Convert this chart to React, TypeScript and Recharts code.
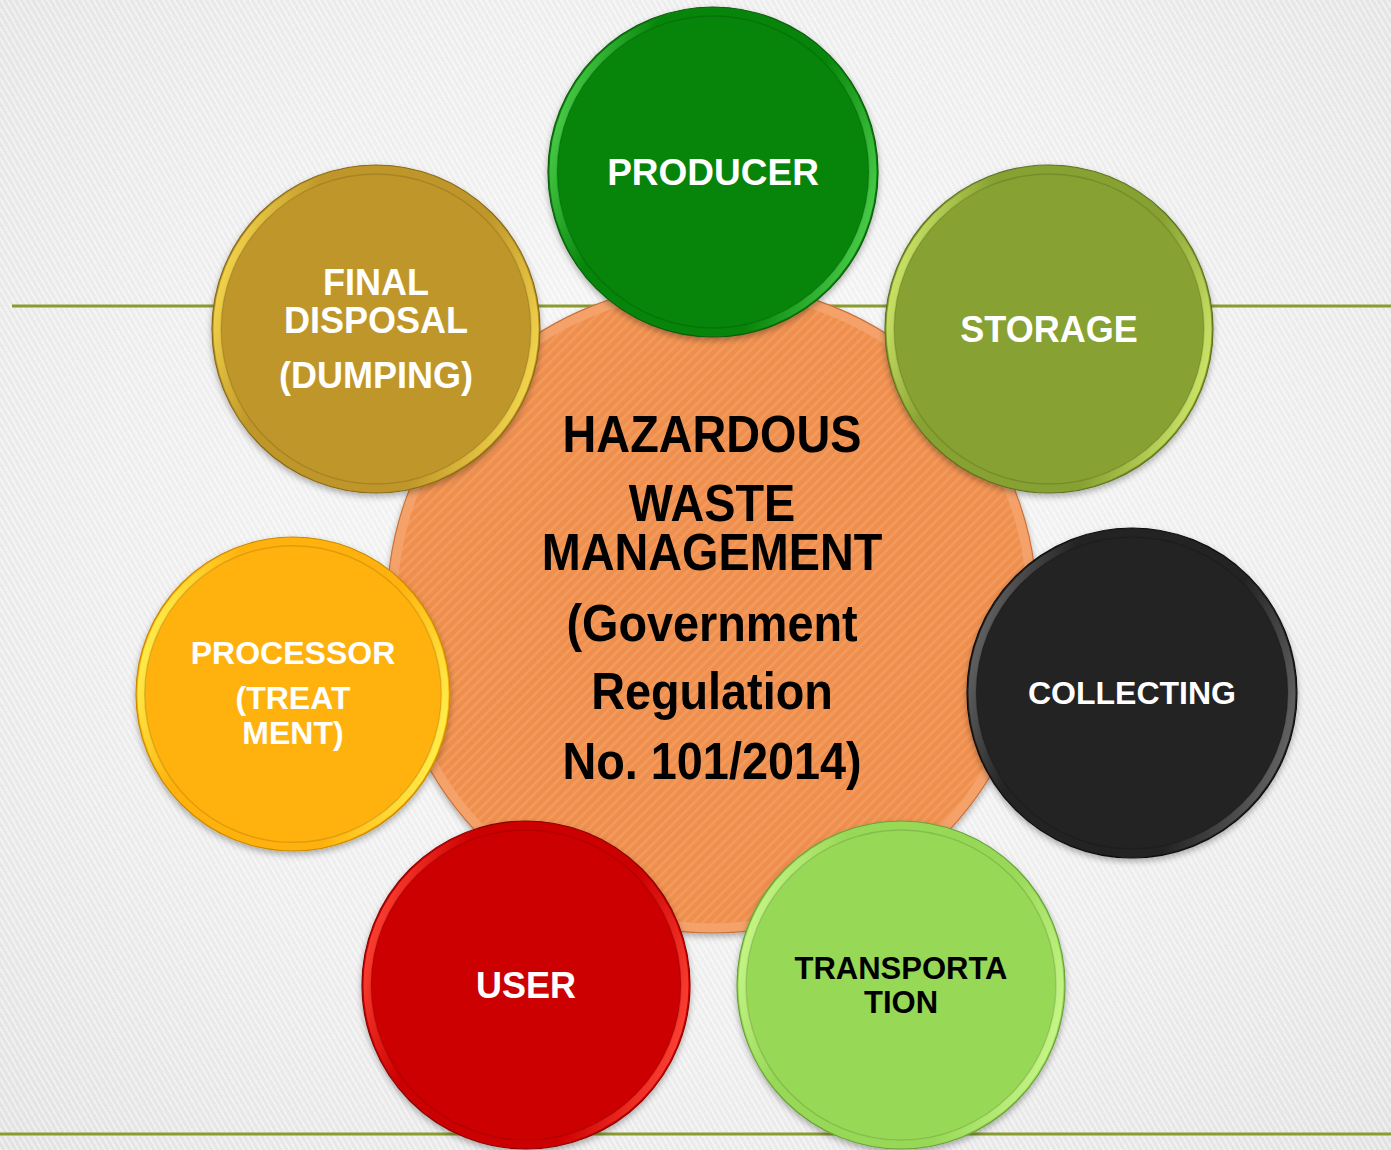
import { ReferenceLine, Scatter, ScatterChart, XAxis, YAxis } from "recharts";

const W = 1391;
const H = 1150;

// satellite stages (clockwise from the top)
const stages = [
  "PRODUCER",
  "STORAGE",
  "COLLECTING",
  "TRANSPORTATION",
  "USER",
  "PROCESSOR (TREATMENT)",
  "FINAL DISPOSAL (DUMPING)",
];
const stageX = [713, 1049, 1132, 901, 526, 293, 376];
const stageY = [172, 329, 693, 985, 985, 694, 329];
const stageR = [165, 164, 165, 164, 164, 157, 164];
const stageLines = [
  ["PRODUCER"],
  ["STORAGE"],
  ["COLLECTING"],
  ["TRANSPORTA", "TION"],
  ["USER"],
  ["PROCESSOR", "(TREAT", "MENT)"],
  ["FINAL", "DISPOSAL", "(DUMPING)"],
];

// center topic
const topicLines = [
  "HAZARDOUS",
  "WASTE",
  "MANAGEMENT",
  "(Government",
  "Regulation",
  "No. 101/2014)",
];
const topicX = [712];
const topicY = [608];
const topicR = [325];

// styling
const stageFill = ["#07850a", "#87a132", "#232323", "#98d857", "#cc0000", "#ffb20d", "#bf9629"];
const stageRim = ["#4ccf4c", "#cfe86a", "#666666", "#c8f78a", "#ff4436", "#fff24f", "#f5d84e"];
const stageEdge = ["#0a5e0a", "#5d7220", "#101010", "#6aa23a", "#8a0000", "#c98a00", "#8a6a14"];
const stageText = ["#fff", "#fff", "#fff", "#000", "#fff", "#fff", "#fff"];
const stageFont = [37, 36, 32, 31, 36, 32, 36];
const stageLineOffsets = [[0], [0], [0], [-17, 17], [0], [-41, 4, 39], [-47, -9, 46]];
const topicLineOffsets = [-175, -106, -57, 14, 82, 152];

const stageData = stages.map((name, i) => ({
  name,
  x: stageX[i],
  y: stageY[i],
  r: stageR[i],
  idx: i,
}));
const topicData = topicX.map((x, i) => ({ x, y: topicY[i], r: topicR[i] }));

const FONT = "'Liberation Sans', Arial, sans-serif";

function StageBall(props: any) {
  const { cx, cy, payload } = props;
  const i = payload.idx;
  const r = payload.r;
  const fs = stageFont[i];
  return (
    <g>
      <circle cx={cx} cy={cy} r={r} fill={stageFill[i]} stroke={stageEdge[i]} strokeWidth={1.2} filter="url(#ballShadow)" />
      <circle cx={cx} cy={cy} r={r - 1.5} fill={`url(#rim${i})`} />
      <circle
        cx={cx}
        cy={cy}
        r={r * 0.945}
        fill={stageFill[i]}
        stroke="rgba(0,0,0,0.12)"
        strokeWidth={1.5}
      />
      {stageLines[i].map((line, k) => (
        <text
          key={k}
          x={cx}
          y={cy + stageLineOffsets[i][k] + fs * 0.358}
          textAnchor="middle"
          fontFamily={FONT}
          fontWeight="bold"
          fontSize={fs}
          fill={stageText[i]}
        >
          {line}
        </text>
      ))}
    </g>
  );
}

function TopicBall(props: any) {
  const { cx, cy, payload } = props;
  const r = payload.r;
  const fs = 52;
  return (
    <g>
      <circle cx={cx} cy={cy} r={r} fill="#f4a26a" stroke="#c9713a" strokeWidth={1.2} filter="url(#ballShadow)" />
      <circle cx={cx} cy={cy} r={r * 0.97} fill="url(#stripes)" />
      {topicLines.map((line, k) => (
        <text
          key={k}
          x={0}
          y={0}
          transform={`translate(${cx},${cy + topicLineOffsets[k] + fs * 0.358}) scale(0.9,1)`}
          textAnchor="middle"
          fontFamily={FONT}
          fontWeight="bold"
          fontSize={fs}
          fill="#000"
        >
          {line}
        </text>
      ))}
    </g>
  );
}

export default function App() {
  return (
    <div
      style={{
        position: "absolute",
        left: 0,
        top: 0,
        width: W,
        height: H,
        background:
          "repeating-linear-gradient(60deg, rgba(255,255,255,0.35) 0px, rgba(255,255,255,0.35) 2px, rgba(0,0,0,0.015) 2px, rgba(0,0,0,0.015) 5px), radial-gradient(ellipse at 50% 45%, #fbfbfb 0%, #f1f1f1 60%, #e6e6e6 100%)",
      }}
    >
      <ScatterChart
        width={W}
        height={H}
        margin={{ top: 0, right: 0, bottom: 0, left: 0 }}
        accessibilityLayer={false}
      >
        <defs>
          <filter id="ballShadow" x="-20%" y="-20%" width="140%" height="140%">
            <feDropShadow dx="0" dy="3" stdDeviation="3" floodColor="#000" floodOpacity="0.3" />
          </filter>
          <pattern id="stripes" width="7" height="7" patternUnits="userSpaceOnUse" patternTransform="rotate(45)">
            <rect width="7" height="7" fill="#ef8f4d" />
            <rect width="2.5" height="7" fill="#f39b5e" />
          </pattern>
          {stageFill.map((c, i) => (
            <linearGradient key={i} id={`rim${i}`} x1="0" y1="0.35" x2="1" y2="0.65">
              <stop offset="0%" stopColor={stageRim[i]} />
              <stop offset="22%" stopColor={c} />
              <stop offset="72%" stopColor={c} />
              <stop offset="100%" stopColor={stageRim[i]} />
            </linearGradient>
          ))}
        </defs>
        <XAxis type="number" dataKey="x" domain={[0, W]} hide allowDataOverflow />
        <YAxis type="number" dataKey="y" domain={[0, H]} reversed hide allowDataOverflow />
        <ReferenceLine
          segment={[
            { x: 12, y: 306 },
            { x: W, y: 306 },
          ]}
          stroke="#8a9c2e"
          strokeWidth={3}
          ifOverflow="visible"
        />
        <ReferenceLine y={1134} stroke="#8a9c2e" strokeWidth={3} ifOverflow="visible" />
        <Scatter data={topicData} shape={TopicBall} isAnimationActive={false} />
        <Scatter data={stageData} shape={StageBall} isAnimationActive={false} />
      </ScatterChart>
    </div>
  );
}
